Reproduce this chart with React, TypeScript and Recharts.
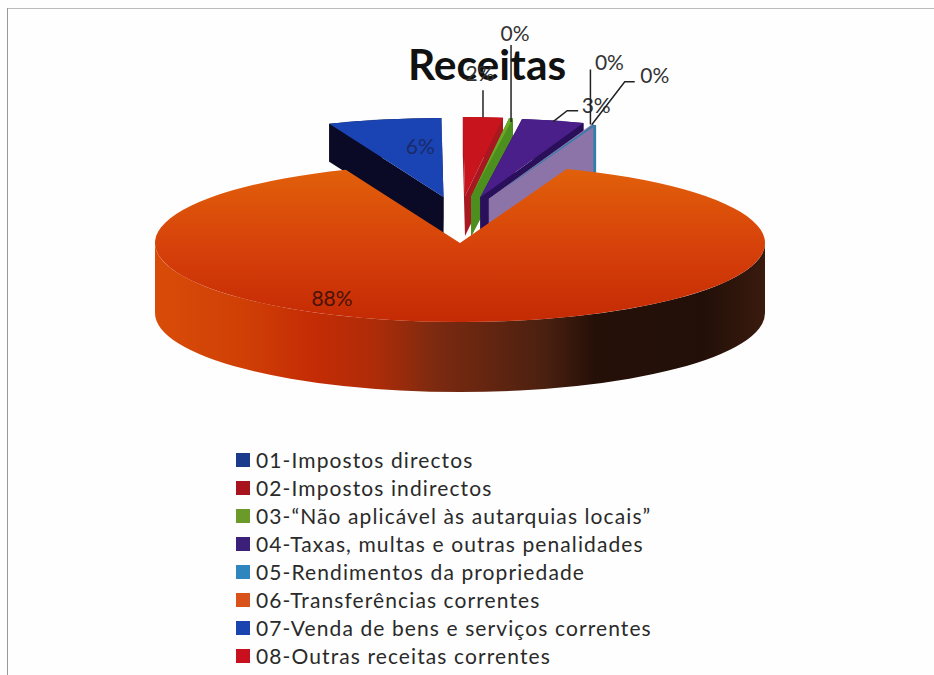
import React from 'react';
import { PieChart, Pie, Legend } from 'recharts';

const TITLE = 'Receitas';
// Slices, clockwise from the upper left
const sliceNames = ['01-Impostos directos', '02-Impostos indirectos', '03-Não aplicável', '04-Taxas, multas e outras penalidades', '07-Venda de bens e serviços correntes', '05-Rendimentos da propriedade', '06-Transferências correntes'];
const sliceValues = [6, 2.1, 0.2, 3.3, 0.05, 0.15, 88.2];

const legendNames = [
  '01-Impostos directos',
  '02-Impostos indirectos',
  '03-“Não aplicável às autarquias locais”',
  '04-Taxas, multas e outras penalidades',
  '05-Rendimentos da propriedade',
  '06-Transferências correntes',
  '07-Venda de bens e serviços correntes',
  '08-Outras receitas correntes',
];
const legendColors = ['#1c3a8c', '#a8141e', '#6a9a2a', '#3c1f78', '#2f86bf', '#d8521a', '#1a45b0', '#c8101e'];

const faceColors = ['#1a44b4', '#c8141c', '#6aa828', '#4a1f8a', '#8d74a8', '#2f7fa8', 'url(#orangeFace)'];
const wallColors = ['#0a0a26', '#a81820', '#4d8f1f', '#2a0f5a', '#8d74a8', '#8d74a8', 'url(#orangeWall)'];
const outerColors = ['#0a0a26', '#a81820', '#4d8f1f', '#2a0f5a', '#8d74a8', '#2f7fa8', 'url(#orangeWall)'];
const backDepths = [38, 40, 40, 40, 50, 50, 0];

const chartData = sliceNames.map((name, i) => ({ name, value: sliceValues[i], fill: faceColors[i] }));

const CX = 460;
const CY = 243;
const RX = 305;
const RY_RATIO = 79 / 305;
const EXPLODE_X = 85;
const EXPLODE_Y = 47;
const DEPTH_MAIN = 70;
const FONT = 'Lato, "Open Sans", sans-serif';

const rad = (a: number) => (a * Math.PI) / 180;

function geometry(cx: number, cy: number, r: number, value: number, mid: number, index: number) {
  const ry = r * RY_RATIO;
  const main = value > 50;
  const ox = main ? cx : cx + EXPLODE_X * Math.cos(rad(mid));
  const oy = main ? cy : cy - EXPLODE_Y * Math.sin(rad(mid));
  const pt = (a: number, d = 0): [number, number] => [ox + r * Math.cos(rad(a)), oy - ry * Math.sin(rad(a)) + d];
  return { ry, main, ox, oy, pt, depth: main ? DEPTH_MAIN : backDepths[index] };
}

function Slice3D(props: any) {
  const { cx, cy, outerRadius: r, startAngle, endAngle, index, value, midAngle, payload } = props;
  const v = value ?? payload?.value;
  const a0 = Math.max(startAngle, endAngle);
  const a1 = Math.min(startAngle, endAngle);
  const mid = midAngle ?? (a0 + a1) / 2;
  const { ry, main, ox, oy, pt, depth } = geometry(cx, cy, r, v, mid, index);
  const large = a0 - a1 > 180 ? 1 : 0;
  const [sx, sy] = pt(a0);
  const [ex, ey] = pt(a1);
  const face = `M${ox},${oy}L${sx},${sy}A${r},${ry} 0 ${large} 1 ${ex},${ey}Z`;
  const wall = (x: number, y: number) => `M${ox},${oy}L${x},${y}L${x},${y + depth}L${ox},${oy + depth}Z`;
  const o0 = main ? Math.min(a0, 0) : a0;
  const o1 = main ? Math.max(a1, -180) : a1;
  const [p0x, p0y] = pt(o0);
  const [p1x, p1y] = pt(o1);
  const outer = `M${p0x},${p0y}A${r},${ry} 0 0 1 ${p1x},${p1y}L${p1x},${p1y + depth}A${r},${ry} 0 0 0 ${p0x},${p0y + depth}Z`;
  return (
    <g>
      <defs>
        <linearGradient id="orangeFace" gradientUnits="userSpaceOnUse" x1="0" y1={cy - ry} x2="0" y2={cy + ry}>
          <stop offset="0" stopColor="#e2620a" />
          <stop offset="0.55" stopColor="#d6400a" />
          <stop offset="1" stopColor="#c42a04" />
        </linearGradient>
        <linearGradient id="orangeWall" gradientUnits="userSpaceOnUse" x1={cx - r} y1="0" x2={cx + r} y2="0">
          <stop offset="0" stopColor="#d84c08" />
          <stop offset="0.14" stopColor="#d04006" />
          <stop offset="0.26" stopColor="#c42c05" />
          <stop offset="0.36" stopColor="#ae2c08" />
          <stop offset="0.46" stopColor="#7c2a10" />
          <stop offset="0.64" stopColor="#4a2010" />
          <stop offset="0.72" stopColor="#251008" />
          <stop offset="0.9" stopColor="#221008" />
          <stop offset="1" stopColor="#3a1a0e" />
        </linearGradient>
      </defs>
      {!main && <path d={wall(ex, ey)} fill={wallColors[index]} />}
      {!main && <path d={wall(sx, sy)} fill={wallColors[index]} />}
      <path d={outer} fill={outerColors[index]} />
      <path d={face} fill={faceColors[index]} />
    </g>
  );
}

// Label layout relative to the rim midpoint of each slice: text centre, then leader bend points
const LABEL_LAYOUT: { text: [number, number]; leader: [number, number][] }[] = [
  { text: [36, 26], leader: [] },
  { text: [-3, -45], leader: [[0, 0], [0, -27]] },
  { text: [4, -86], leader: [[0, 4], [0, -73]] },
  { text: [43, -16], leader: [[0, 1], [14, -10], [25, -10]] },
  { text: [17, -63], leader: [[-2, 0], [-2, -55]] },
  { text: [60, -50], leader: [[-3, 0], [30, -43], [40, -43]] },
  { text: [-132, -24], leader: [] },
];

function SliceLabel(props: any) {
  const { cx, cy, outerRadius: r, midAngle, index, value, payload } = props;
  const v = value ?? payload?.value;
  const { pt } = geometry(cx, cy, r, v, midAngle, index);
  const [x, y] = pt(midAngle);
  const layout = LABEL_LAYOUT[index];
  return (
    <g>
      {layout.leader.length > 0 && (
        <polyline
          points={layout.leader.map(([dx, dy]) => `${x + dx},${y + dy}`).join(' ')}
          fill="none"
          stroke="#222"
          strokeWidth={1.5}
        />
      )}
      <text
        x={x + layout.text[0]}
        y={y + layout.text[1]}
        textAnchor="middle"
        dominantBaseline="central"
        fontFamily={FONT}
        fontSize={21}
        fill={index === 0 ? '#1a2a6a' : index === 6 ? '#4a1208' : '#333'}
      >
        {`${Math.round(v)}%`}
      </text>
    </g>
  );
}

function LegendList() {
  return (
    <div style={{ fontFamily: FONT, fontSize: 21, color: '#2a2a2a', lineHeight: '28px', whiteSpace: 'nowrap' }}>
      {legendNames.map((n, i) => (
        <div key={n} style={{ display: 'flex', alignItems: 'center', height: 28 }}>
          <span style={{ width: 14, height: 14, background: legendColors[i], marginRight: 6, flex: 'none' }} />
          <span style={{ letterSpacing: 1.1 }}>{n}</span>
        </div>
      ))}
    </div>
  );
}

export default function App() {
  return (
    <div style={{ position: 'absolute', left: 0, top: 0, width: 934, height: 675, background: '#fefefe', overflow: 'hidden' }}>
      <div style={{ position: 'absolute', left: 7, top: 8, right: 0, height: 1, background: '#bbb' }} />
      <div style={{ position: 'absolute', left: 7, top: 8, bottom: 0, width: 1, background: '#999' }} />
      <div style={{ position: 'absolute', left: 0, top: 0 }}>
        <PieChart width={934} height={675} margin={{ top: 0, right: 0, bottom: 0, left: 0 }}>
          <text x={487} y={63} textAnchor="middle" dominantBaseline="central" fontFamily={FONT} fontWeight={700} fontSize={42.5} fill="#111">
            {TITLE}
          </text>
          <Pie
            data={chartData}
            dataKey="value"
            nameKey="name"
            cx={CX}
            cy={CY}
            innerRadius={0}
            outerRadius={RX}
            startAngle={112}
            endAngle={112 - 360}
            stroke="none"
            isAnimationActive={false}
            shape={Slice3D}
            label={SliceLabel}
            labelLine={false}
          />
          <Legend content={LegendList} layout="vertical" wrapperStyle={{ left: 236, top: 446, width: 460 }} />
        </PieChart>
      </div>
    </div>
  );
}
